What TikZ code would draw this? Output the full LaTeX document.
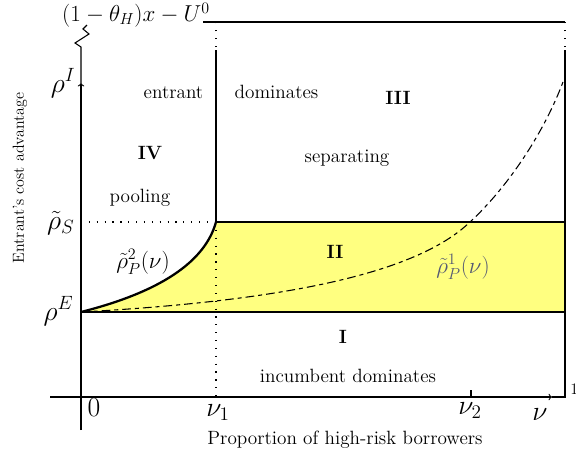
\documentclass[tikz,border=0pt]{standalone}
\usepackage{amsmath,amssymb}
\usepackage{tikz}
\usetikzlibrary{calc}
\definecolor{regionII}{RGB}{255,255,128}
\definecolor{curvelabel}{RGB}{85,90,115}
\tikzset{
    axis/.style={line width=0.8pt},
    bound/.style={line width=1.7pt},
    guide/.style={line width=1pt, dash pattern=on 0.9pt off 5pt},
    poolcurve/.style={line width=0.8pt, dash pattern=on 6.5pt off 3pt on 3pt off 3pt},
    region/.style={font=\Large},
    numeral/.style={font=\Large\bfseries},
    lvl/.style={font=\huge, anchor=base east, inner sep=1pt},
    tick/.style={font=\huge, anchor=base},
}

\begin{document}
\begin{tikzpicture}[x=0.75pt, y=-0.75pt]
    \useasboundingbox (0,0) rectangle (576,461);
    % axes and frame
    \coordinate (O) at (81,397);
    \coordinate (Ybot) at (81,430);
    \coordinate (Ytop) at (81,47);
    \coordinate (Xleft) at (50,397);
    \coordinate (Xtip) at (552,397);
    \coordinate (R0) at (565,397);
    \coordinate (R1) at (565,50);
    \coordinate (R2) at (565,47);
    \coordinate (RT) at (565,22);
    \coordinate (TL) at (203,22);
    % levels
    \coordinate (rhoI) at (81,83);
    \coordinate (S0) at (81,222);
    \coordinate (E0) at (81,312);
    \coordinate (S1) at (216,222);
    \coordinate (S2) at (565,222);
    \coordinate (E2) at (565,312);
    \coordinate (N1b) at (216,397);
    \coordinate (N1t) at (216,50);
    \coordinate (N1d) at (216,47);
    \coordinate (N1top) at (216,22);
    \coordinate (N2) at (471,397);
    \coordinate (Q1) at (470,222);
    \coordinate (Q2) at (563,82);

    \fill[regionII] (E0) .. controls (160,292) and (205,262) .. (S1) -- (S2) -- (E2) -- cycle;

    \draw[axis,->] (Ybot) -- (rhoI);
    \draw[axis] (rhoI) -- (Ytop) -- ++(-6,-4) -- ++(14,-9) -- ++(-6,-5) -- ++(4,-4);
    \draw[axis,->] (Xleft) -- (Xtip);
    \draw[axis] (Xtip) -- (R0) -- (R1);
    \draw[axis] (TL) -- (RT);
    \draw[guide] (R2) -- (RT);
    \draw[axis] (N2) -- ++(0,-7);

    \draw[guide] (S0) -- (S1);
    \draw[guide] (S1) -- (N1b);
    \draw[guide] (N1d) -- (N1top);

    \draw[poolcurve] (E0) .. controls (300,300) and (420,270) .. (Q1)
        .. controls (510,185) and (545,130) .. (Q2);

    \draw[bound] (E0) -- (E2);
    \draw[bound] (S1) -- (S2);
    \draw[bound] (N1t) -- (S1);
    \draw[bound] (E0) .. controls (160,292) and (205,262) .. (S1);

    % axis labels
    \node[lvl] (lrhoI) at (77,92) {$\rho^I$};
    \node[lvl] (lrhoS) at (76,229) {$\tilde\rho_S$};
    \node[lvl] (lrhoE) at (75,320) {$\rho^E$};
    \node[tick] (lzero) at (94,416) {$0$};
    \node[tick] (lnu1) at (218,416) {$\nu_1$};
    \node[tick] (lnu2) at (470,414) {$\nu_2$};
    \node[tick] (lnu) at (540,420) {$\nu$};
    \node[font=\large, anchor=west, inner sep=0pt] (lone) at (570,389) {$1$};
    \node[font=\LARGE, inner sep=0pt] (ltop) at (136,15) {$(1-\theta_H)x-U^0$};
    \node[font=\Large] (xlabel) at (345,440) {Proportion of high-risk borrowers};
    \node[font=\large, rotate=90] (ylabel) at (20,178) {Entrant's cost advantage};

    % regions
    \node[region, anchor=base east] (lentrant) at (208,98) {entrant};
    \node[region, anchor=base west] (ldom) at (230,98) {dominates};
    \node[numeral] (rIII) at (398,98) {III};
    \node[numeral] (rIV) at (150,153) {IV};
    \node[region] (lsep) at (347,158) {separating};
    \node[region] (lpool) at (140,198) {pooling};
    \node[numeral] (rII) at (335,252) {II};
    \node[font=\LARGE] (lrho2) at (143,262) {$\tilde\rho^2_P(\nu)$};
    \node[font=\LARGE, text=curvelabel] (lrho1) at (463,267) {$\tilde\rho^1_P(\nu)$};
    \node[numeral] (rI) at (343,337) {I};
    \node[region] (linc) at (348,376) {incumbent dominates};
\end{tikzpicture}
\end{document}
